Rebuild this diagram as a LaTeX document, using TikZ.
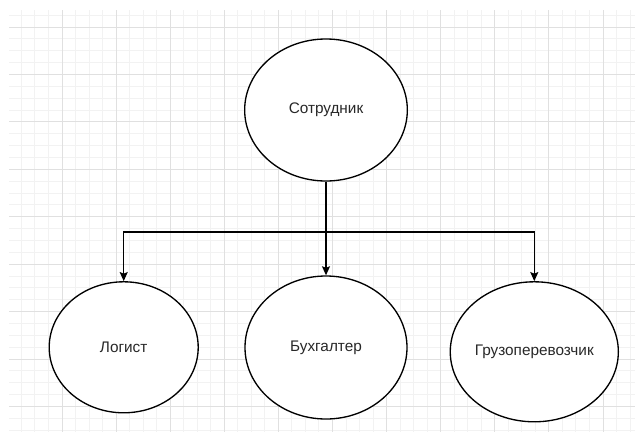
\documentclass[tikz,border=0pt]{standalone}
\usepackage{fontspec}
\setmainfont{Liberation Sans}
\usetikzlibrary{arrows.meta, positioning, shapes.geometric}
\definecolor{gridmajor}{RGB}{224,224,224}
\definecolor{gridminor}{RGB}{242,242,242}
\definecolor{inkc}{RGB}{40,40,40}

\begin{document}
\begin{tikzpicture}[x=0.75pt, y=-0.75pt,
    role/.style={draw=black, line width=1pt, ellipse, fill=white, inner sep=0pt,
      font=\fontsize{11.5}{13}\selectfont, text=inkc},
    link/.style={-{Stealth[length=6.8pt, width=6pt, inset=1.2pt]}, line width=1pt}]
  \useasboundingbox (0,0) rectangle (635,432);
  % background grid
  \begin{scope}
    \clip (9,10) rectangle (635,432);
    \foreach \i in {0,...,46}
      \draw[gridminor, line width=0.75pt] ({7.9+\i*13.525},0) -- ++(0,432);
    \foreach \j in {0,...,36}
      \draw[gridminor, line width=0.75pt] (0,{3.28+\j*11.86}) -- ++(635,0);
    \foreach \i in {0,...,11}
      \draw[gridmajor, line width=0.75pt] ({7.9+\i*54.1},0) -- ++(0,432);
    \foreach \j in {0,...,8}
      \draw[gridmajor, line width=0.75pt] (0,{27+\j*47.44}) -- ++(635,0);
  \end{scope}
  % roles
  \node[role, minimum width=122pt, minimum height=106.5pt] (emp) at (326,110) {Сотрудник};
  \node[role, minimum width=111.75pt, minimum height=98.25pt] (logist) at (123.7,347.3) {Логист};
  \node[role, minimum width=121.5pt, minimum height=107.25pt] (buh) at (326,347.5) {Бухгалтер};
  \node[role, minimum width=120pt, minimum height=105pt] (gruz) at (534.3,351.8) {Грузоперевозчик};
  \coordinate (split) at (326,232);
  \draw[link] (emp.south) -- (buh.north);
  \draw[link] (split) -| (logist.north);
  \draw[link] (split) -| (gruz.north);
\end{tikzpicture}
\end{document}
